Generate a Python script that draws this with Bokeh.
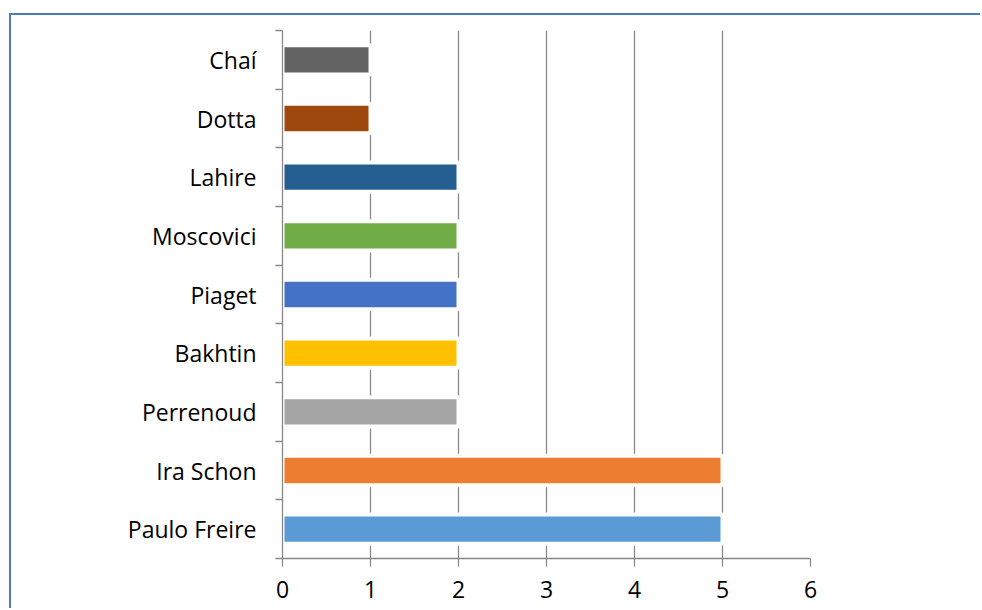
from bokeh.plotting import figure
from bokeh.models import Range1d, FixedTicker
from bokeh.embed import file_html
from bokeh.resources import INLINE

# data (bottom to top)
authors = ["Paulo Freire", "Ira Schon", "Perrenoud", "Bakhtin", "Piaget",
           "Moscovici", "Lahire", "Dotta", "Chaí"]
counts = [5, 5, 2, 2, 2, 2, 2, 1, 1]
x_ticks = [0, 1, 2, 3, 4, 5, 6]

colors = ["#5B9BD5", "#ED7D31", "#A5A5A5", "#FFC000", "#4472C4",
          "#70AD47", "#255E91", "#9E480E", "#636363"]

n = len(authors)
centers = [i + 0.5 for i in range(n)]

p = figure(width=971, height=595, output_backend="svg", toolbar_location=None,
           x_range=Range1d(x_ticks[0], x_ticks[-1]), y_range=Range1d(0, n),
           min_border_left=271, min_border_right=172, min_border_top=15,
           min_border_bottom=52)
p.margin = (13, 0, 0, 9)
p.styles = {"border-left": "2px solid #4a7ebb", "border-top": "2px solid #4a7ebb"}
p.outline_line_color = None
p.background_fill_color = "white"
p.border_fill_color = "white"

p.hbar(y=centers, right=counts, left=0, height=0.5, fill_color=colors,
       line_color="white", line_width=4)

grey = "#898989"
FONT = "Open Sans"

# x axis
xa = p.xaxis[0]
xa.ticker = FixedTicker(ticks=x_ticks, minor_ticks=[])
xa.axis_line_color = grey
xa.axis_line_width = 1.3
xa.major_tick_line_color = grey
xa.major_tick_line_width = 1.3
xa.major_tick_out = 8
xa.major_tick_in = 0
xa.minor_tick_line_color = None
xa.major_label_text_font = FONT
xa.major_label_text_font_size = "23px"
xa.major_label_text_color = "#000000"
xa.major_label_standoff = 14

# y axis
ya = p.yaxis[0]
ya.ticker = FixedTicker(ticks=centers, minor_ticks=list(range(n + 1)))
ya.major_label_overrides = {c: a for c, a in zip(centers, authors)}
ya.axis_line_color = grey
ya.axis_line_width = 1.3
ya.major_tick_line_color = None
ya.major_tick_out = 0
ya.major_tick_in = 0
ya.minor_tick_line_color = grey
ya.minor_tick_line_width = 1.3
ya.minor_tick_out = 7
ya.minor_tick_in = 0
ya.major_label_text_font = FONT
ya.major_label_text_font_size = "23px"
ya.major_label_text_color = "#000000"
ya.major_label_standoff = 19

# grid
p.xgrid.ticker = FixedTicker(ticks=x_ticks[1:])
p.xgrid.grid_line_color = grey
p.xgrid.grid_line_width = 1.3
p.ygrid.grid_line_color = None

open("out.html", "w").write(file_html(p, INLINE))
